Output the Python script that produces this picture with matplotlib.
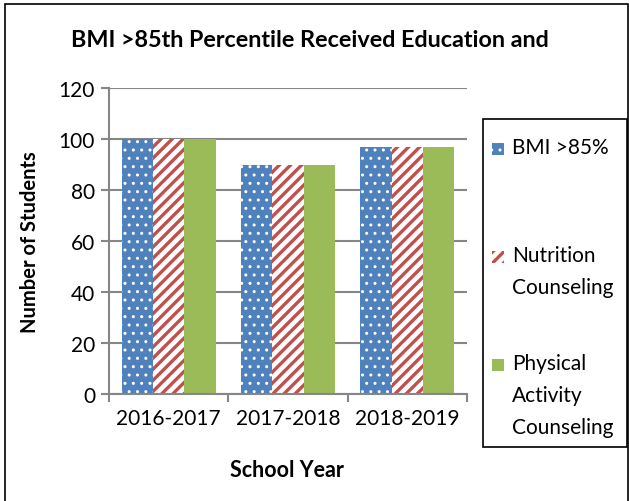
import numpy as np
import matplotlib.pyplot as plt
from matplotlib.patches import Rectangle

plt.rcParams["font.family"] = ["Lato", "DejaVu Sans"]
plt.rcParams["hatch.linewidth"] = 2.4

years = ["2016-2017", "2017-2018", "2018-2019"]
bmi = [100, 90, 97]
nutrition = [100, 90, 97]
physical = [100, 90, 97]
series_names = ["BMI >85%", "Nutrition\nCounseling", "Physical\nActivity\nCounseling"]

BLUE = "#4F81BD"
RED = "#C0504D"
GREEN = "#9BBB59"
GRID = "#868686"


def thin_dots(patches):
    # smaller white dots on the blue bars, when the patch supports it
    for p in patches:
        if hasattr(p, "set_hatch_linewidth"):
            p.set_hatch_linewidth(1.0)


fig = plt.figure(figsize=(6.29, 5.02), dpi=100)
ax = fig.add_axes([0.1733, 0.2137, 0.569, 0.6088])

x = np.arange(len(years))
w = 0.262
b1 = ax.bar(x - w, bmi, w, color=BLUE, hatch="..", edgecolor="white", linewidth=0)
thin_dots(b1)
ax.bar(x, nutrition, w, color="white", hatch="///", edgecolor=RED, linewidth=0)
ax.bar(x + w, physical, w, color=GREEN, linewidth=0)

ax.set_ylim(0, 120)
ax.set_yticks(range(0, 121, 20))
ax.set_xlim(-0.5, 2.5)
ax.set_xticks(x)
ax.set_xticklabels(years)
ax.set_xticks([-0.5, 0.5, 1.5, 2.5], minor=True)
ax.tick_params(axis="x", which="major", length=0, pad=10, labelsize=15)
ax.tick_params(axis="x", which="minor", length=6, width=1.5, color=GRID)
ax.tick_params(axis="y", length=6, width=1.5, color=GRID, labelsize=15, pad=4)
ax.grid(True, axis="y", color=GRID, linewidth=1.5)
ax.set_axisbelow(True)
for s in ["top", "right"]:
    ax.spines[s].set_visible(False)
for s in ["left", "bottom"]:
    ax.spines[s].set_color(GRID)
    ax.spines[s].set_linewidth(1.5)

fig.text(0.493, 0.92, "BMI >85th Percentile Received Education and",
         ha="center", va="center", fontsize=16.8, fontweight="bold")
fig.text(0.048, 0.517, "Number of Students", rotation=90,
         ha="center", va="center", fontsize=14.5, fontweight="bold")
fig.text(0.456, 0.062, "School Year", ha="center", va="center",
         fontsize=15.5, fontweight="bold")

# outer border
fig.add_artist(Rectangle((0.008, -0.01), 0.99, 1.0, transform=fig.transFigure,
                         fill=False, edgecolor="black", linewidth=1.2))

# legend drawn by hand to keep Excel's spacing
fig.add_artist(Rectangle((483 / 629, 1 - 448 / 502), 144 / 629, 328 / 502,
                         transform=fig.transFigure, fill=False,
                         edgecolor="black", linewidth=1.2))
handles = [
    dict(facecolor=BLUE, hatch="..", edgecolor="white"),
    dict(facecolor="white", hatch="///", edgecolor=RED),
    dict(facecolor=GREEN, edgecolor=GREEN),
]
entry_y = [150, 258, 366]
for i, (name, style, yy) in enumerate(zip(series_names, handles, entry_y)):
    h = Rectangle((492 / 629, 1 - (yy + 6) / 502), 12 / 629, 12 / 502,
                  transform=fig.transFigure, linewidth=0, **style)
    if i == 0:
        thin_dots([h])
    fig.add_artist(h)
    fig.text(512 / 629, 1 - (yy - 12) / 502, name, ha="left", va="top",
             fontsize=15, linespacing=1.75)

fig.savefig("out.png", dpi=100)
